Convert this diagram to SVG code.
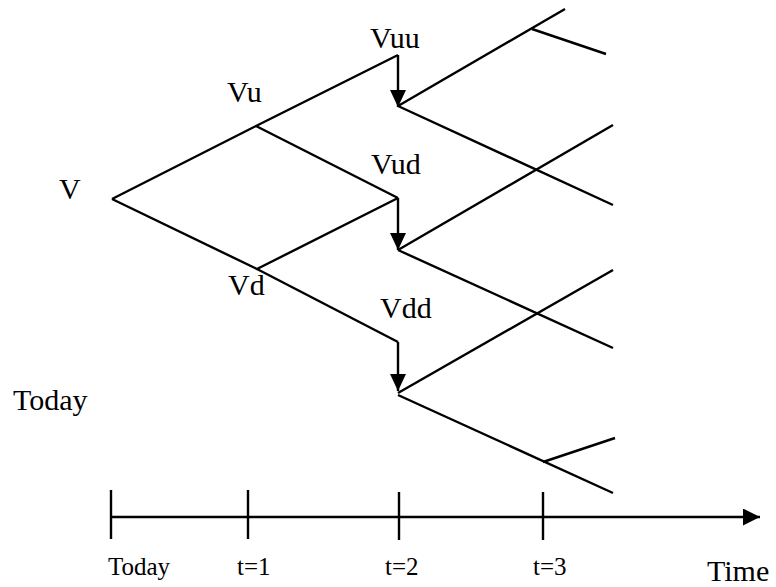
<svg xmlns="http://www.w3.org/2000/svg" width="776" height="587" viewBox="0 0 776 587">
<style>
.l{stroke:#000;stroke-width:2.4;fill:none}
.t{font-family:"Liberation Serif","Times New Roman",serif;font-size:30px;fill:#000}
.s{font-family:"Liberation Serif","Times New Roman",serif;font-size:25px;fill:#000}
</style>
<defs>
<marker id="vh" markerWidth="17" markerHeight="16" refX="17" refY="8" orient="auto" markerUnits="userSpaceOnUse" viewBox="0 0 17 16">
<path d="M0,0 L17,8 L0,16 z" fill="#000"/>
</marker>
<marker id="ax" markerWidth="17" markerHeight="17" refX="17" refY="8.5" orient="auto" markerUnits="userSpaceOnUse" viewBox="0 0 17 17">
<path d="M0,0 L17,8.5 L0,17 z" fill="#000"/>
</marker>
</defs>
<g id="connectors">
<path class="l" d="M112,199 L256,126 L398,55"/>
<path class="l" d="M256,126 L398,198"/>
<path class="l" d="M112,199 L257,269 L398,198"/>
<path class="l" d="M257,269 L398,342"/>
<line class="l" x1="398" y1="55" x2="398" y2="107" marker-end="url(#vh)"/>
<line class="l" x1="398" y1="198" x2="398" y2="250" marker-end="url(#vh)"/>
<line class="l" x1="398" y1="342" x2="398" y2="391" marker-end="url(#vh)"/>
<path class="l" d="M398,106 L565,9"/>
<path class="l" d="M532,29 L606,54"/>
<path class="l" d="M398,106 L613,205"/>
<path class="l" d="M398,250 L613,125"/>
<path class="l" d="M398,250 L613,348"/>
<path class="l" d="M398,393 L613,270"/>
<path class="l" d="M398,395 L613,493"/>
<path class="l" d="M543,462 L615,438"/>
</g>
<g id="axis">
<line class="l" x1="111" y1="517" x2="760" y2="517" marker-end="url(#ax)"/>
<line class="l" x1="111" y1="490" x2="111" y2="539"/>
<line class="l" x1="248" y1="490" x2="248" y2="539"/>
<line class="l" x1="399" y1="492" x2="399" y2="540"/>
<line class="l" x1="543" y1="492" x2="543" y2="540"/>
</g>
<g id="labels">
<text class="t" x="59" y="199">V</text>
<text class="t" x="227" y="102">Vu</text>
<text class="t" x="370" y="48">Vuu</text>
<text class="t" x="371" y="174">Vud</text>
<text class="t" x="228" y="295">Vd</text>
<text class="t" x="380" y="318">Vdd</text>
<text class="t" x="13" y="410">Today</text>
<text class="s" x="108" y="575">Today</text>
<text class="s" x="237" y="575">t=1</text>
<text class="s" x="385" y="575">t=2</text>
<text class="s" x="533" y="575">t=3</text>
<text class="t" x="707" y="581">Time</text>
</g>
</svg>
